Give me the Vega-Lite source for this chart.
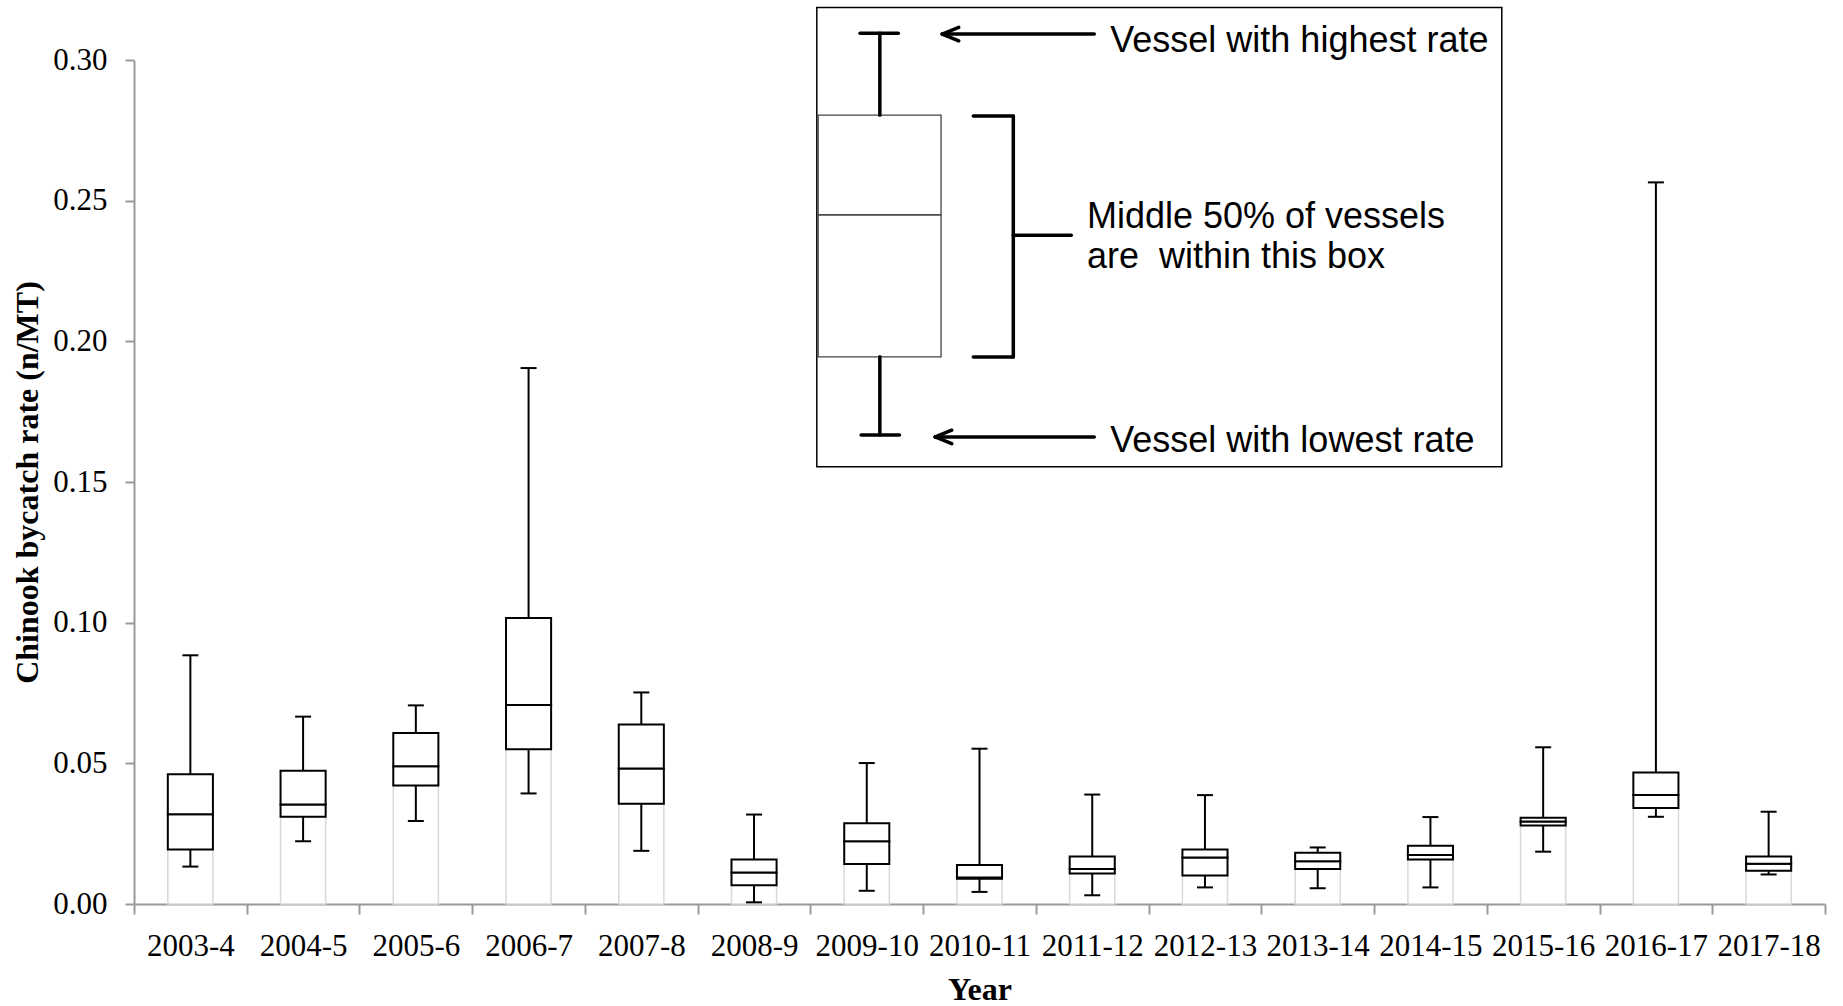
{
  "$schema": "https://vega.github.io/schema/vega-lite/v6.json",
  "width": 1691,
  "height": 844,
  "autosize": {"type": "none"},
  "padding": {"left": 134, "top": 60, "right": 18, "bottom": 102},
  "background": "white",
  "config": {
    "view": {"stroke": null},
    "axisY": {
      "grid": false, "domainColor": "#9a9a9a", "domainWidth": 2, "tickColor": "#9a9a9a", "tickWidth": 2, "tickSize": 9,
      "labelFont": "Liberation Serif", "labelFontSize": 31, "labelColor": "black", "labelPadding": 18,
      "titleFont": "Liberation Serif", "titleFontSize": 32, "titleFontWeight": "bold", "titleColor": "black", "titlePadding": 8
    }
  },
  "datasets": {
    "boxes": [
      {"year": "2003-4", "min": 0.0133, "q1": 0.0194, "med": 0.0319, "q3": 0.0461, "max": 0.0884},
      {"year": "2004-5", "min": 0.0223, "q1": 0.0310, "med": 0.0354, "q3": 0.0474, "max": 0.0666},
      {"year": "2005-6", "min": 0.0295, "q1": 0.0421, "med": 0.0490, "q3": 0.0608, "max": 0.0706},
      {"year": "2006-7", "min": 0.0393, "q1": 0.0550, "med": 0.0707, "q3": 0.1017, "max": 0.1905},
      {"year": "2007-8", "min": 0.0189, "q1": 0.0356, "med": 0.0482, "q3": 0.0638, "max": 0.0752},
      {"year": "2008-9", "min": 0.0006, "q1": 0.0067, "med": 0.0112, "q3": 0.0158, "max": 0.0318},
      {"year": "2009-10", "min": 0.0047, "q1": 0.0142, "med": 0.0223, "q3": 0.0287, "max": 0.0501},
      {"year": "2010-11", "min": 0.0043, "q1": 0.0090, "med": 0.0094, "q3": 0.0139, "max": 0.0552},
      {"year": "2011-12", "min": 0.0031, "q1": 0.0108, "med": 0.0124, "q3": 0.0169, "max": 0.0389},
      {"year": "2012-13", "min": 0.0059, "q1": 0.0101, "med": 0.0165, "q3": 0.0194, "max": 0.0387},
      {"year": "2013-14", "min": 0.0056, "q1": 0.0124, "med": 0.0152, "q3": 0.0182, "max": 0.0201},
      {"year": "2014-15", "min": 0.0059, "q1": 0.0158, "med": 0.0174, "q3": 0.0207, "max": 0.0309},
      {"year": "2015-16", "min": 0.0186, "q1": 0.0279, "med": 0.0293, "q3": 0.0307, "max": 0.0557},
      {"year": "2016-17", "min": 0.0310, "q1": 0.0341, "med": 0.0387, "q3": 0.0467, "max": 0.2565},
      {"year": "2017-18", "min": 0.0105, "q1": 0.0118, "med": 0.0143, "q3": 0.0169, "max": 0.0328}
    ],
    "inset_frame": [
      {"x": 6.057, "x2": 12.133, "y": 0.3187, "y2": 0.1554}
    ],
    "inset_box": [
      {"x": 6.069, "x2": 7.159, "y": 0.2804, "y2": 0.2449},
      {"x": 6.069, "x2": 7.159, "y": 0.2449, "y2": 0.1945}
    ],
    "inset_lines": [
      {"part": "upper whisker", "x": 6.616, "x2": 6.616, "y": 0.2804, "y2": 0.3095},
      {"part": "upper cap", "x": 6.44, "x2": 6.78, "y": 0.3095, "y2": 0.3095},
      {"part": "lower whisker", "x": 6.616, "x2": 6.616, "y": 0.1945, "y2": 0.1667},
      {"part": "lower cap", "x": 6.45, "x2": 6.79, "y": 0.1667, "y2": 0.1667},
      {"part": "top arrow", "x": 7.169, "x2": 8.518, "y": 0.3092, "y2": 0.3092},
      {"part": "top arrow head a", "x": 7.169, "x2": 7.316, "y": 0.3092, "y2": 0.3116},
      {"part": "top arrow head b", "x": 7.169, "x2": 7.316, "y": 0.3092, "y2": 0.3068},
      {"part": "bottom arrow", "x": 7.107, "x2": 8.518, "y": 0.1660, "y2": 0.1660},
      {"part": "bottom arrow head a", "x": 7.107, "x2": 7.254, "y": 0.1660, "y2": 0.1684},
      {"part": "bottom arrow head b", "x": 7.107, "x2": 7.254, "y": 0.1660, "y2": 0.1636},
      {"part": "bracket spine", "x": 7.800, "x2": 7.800, "y": 0.2801, "y2": 0.1944},
      {"part": "bracket top", "x": 7.445, "x2": 7.800, "y": 0.2801, "y2": 0.2801},
      {"part": "bracket bottom", "x": 7.445, "x2": 7.800, "y": 0.1944, "y2": 0.1944},
      {"part": "bracket tip", "x": 7.800, "x2": 8.314, "y": 0.2377, "y2": 0.2377}
    ],
    "inset_text": [
      {"x": 8.660, "y": 0.3030, "label": "Vessel with highest rate"},
      {"x": 8.453, "y": 0.2402, "label": "Middle 50% of vessels"},
      {"x": 8.453, "y": 0.2260, "label": "are \u00a0within this box"},
      {"x": 8.660, "y": 0.1608, "label": "Vessel with lowest rate"}
    ]
  },
  "layer": [
    {
      "data": {"name": "boxes"},
      "encoding": {
        "x": {
          "field": "year", "type": "nominal", "sort": null,
          "scale": {"paddingInner": 0, "paddingOuter": 0},
          "axis": {
            "title": "Year", "labelAngle": 0, "tickBand": "extent",
            "domainColor": "#9a9a9a", "domainWidth": 2, "tickColor": "#9a9a9a", "tickWidth": 2, "tickSize": 10,
            "labelFont": "Liberation Serif", "labelFontSize": 31, "labelColor": "black", "labelPadding": 17,
            "labelOverlap": false,
            "titleFont": "Liberation Serif", "titleFontSize": 32, "titleFontWeight": "bold", "titleColor": "black", "titlePadding": 13
          }
        }
      },
      "layer": [
        {
          "mark": {"type": "bar", "width": {"band": 0.4}, "fill": "white", "stroke": "#d9d9d9", "strokeWidth": 1.5},
          "encoding": {
            "y": {
              "field": "q1", "type": "quantitative",
              "scale": {"domain": [0, 0.3], "nice": false, "zero": true},
              "axis": {"title": "Chinook bycatch rate (n/MT)", "values": [0, 0.05, 0.1, 0.15, 0.2, 0.25, 0.3], "format": ".2f"}
            }
          }
        },
        {
          "mark": {"type": "rule", "stroke": "black", "strokeWidth": 2},
          "encoding": {
            "y": {"field": "q3", "type": "quantitative", "scale": {"domain": [0, 0.3], "nice": false, "zero": true},
              "axis": {"title": "Chinook bycatch rate (n/MT)", "values": [0, 0.05, 0.1, 0.15, 0.2, 0.25, 0.3], "format": ".2f"}},
            "y2": {"field": "max"}
          }
        },
        {
          "mark": {"type": "rule", "stroke": "black", "strokeWidth": 2},
          "encoding": {
            "y": {"field": "min", "type": "quantitative", "scale": {"domain": [0, 0.3], "nice": false, "zero": true},
              "axis": {"title": "Chinook bycatch rate (n/MT)", "values": [0, 0.05, 0.1, 0.15, 0.2, 0.25, 0.3], "format": ".2f"}},
            "y2": {"field": "q1"}
          }
        },
        {
          "mark": {"type": "tick", "size": 16, "thickness": 2, "color": "black", "opacity": 1},
          "encoding": {"y": {"field": "max", "type": "quantitative", "scale": {"domain": [0, 0.3], "nice": false, "zero": true},
            "axis": {"title": "Chinook bycatch rate (n/MT)", "values": [0, 0.05, 0.1, 0.15, 0.2, 0.25, 0.3], "format": ".2f"}}}
        },
        {
          "mark": {"type": "tick", "size": 16, "thickness": 2, "color": "black", "opacity": 1},
          "encoding": {"y": {"field": "min", "type": "quantitative", "scale": {"domain": [0, 0.3], "nice": false, "zero": true},
            "axis": {"title": "Chinook bycatch rate (n/MT)", "values": [0, 0.05, 0.1, 0.15, 0.2, 0.25, 0.3], "format": ".2f"}}}
        },
        {
          "mark": {"type": "bar", "width": {"band": 0.4}, "fill": "white", "stroke": "black", "strokeWidth": 2},
          "encoding": {
            "y": {"field": "q1", "type": "quantitative", "scale": {"domain": [0, 0.3], "nice": false, "zero": true},
              "axis": {"title": "Chinook bycatch rate (n/MT)", "values": [0, 0.05, 0.1, 0.15, 0.2, 0.25, 0.3], "format": ".2f"}},
            "y2": {"field": "med"}
          }
        },
        {
          "mark": {"type": "bar", "width": {"band": 0.4}, "fill": "white", "stroke": "black", "strokeWidth": 2},
          "encoding": {
            "y": {"field": "med", "type": "quantitative", "scale": {"domain": [0, 0.3], "nice": false, "zero": true},
              "axis": {"title": "Chinook bycatch rate (n/MT)", "values": [0, 0.05, 0.1, 0.15, 0.2, 0.25, 0.3], "format": ".2f"}},
            "y2": {"field": "q3"}
          }
        }
      ]
    },
    {
      "layer": [
        {
          "data": {"name": "inset_frame"},
          "mark": {"type": "rect", "fill": "white", "stroke": "black", "strokeWidth": 1.5},
          "encoding": {
            "x": {"field": "x", "type": "quantitative", "scale": {"domain": [0, 15], "nice": false, "zero": false}, "axis": null},
            "x2": {"field": "x2"},
            "y": {"field": "y", "type": "quantitative", "axis": null},
            "y2": {"field": "y2"}
          }
        },
        {
          "data": {"name": "inset_box"},
          "mark": {"type": "rect", "fill": "white", "stroke": "#444444", "strokeWidth": 1.3},
          "encoding": {
            "x": {"field": "x", "type": "quantitative", "axis": null},
            "x2": {"field": "x2"},
            "y": {"field": "y", "type": "quantitative", "axis": null},
            "y2": {"field": "y2"}
          }
        },
        {
          "data": {"name": "inset_lines"},
          "mark": {"type": "rule", "stroke": "black", "strokeWidth": 3.5, "strokeCap": "round"},
          "encoding": {
            "x": {"field": "x", "type": "quantitative", "axis": null},
            "x2": {"field": "x2"},
            "y": {"field": "y", "type": "quantitative", "axis": null},
            "y2": {"field": "y2"}
          }
        },
        {
          "data": {"name": "inset_text"},
          "mark": {"type": "text", "align": "left", "baseline": "alphabetic", "font": "Liberation Sans", "fontSize": 36, "color": "black"},
          "encoding": {
            "x": {"field": "x", "type": "quantitative", "axis": null},
            "y": {"field": "y", "type": "quantitative", "axis": null},
            "text": {"field": "label"}
          }
        }
      ]
    }
  ],
  "resolve": {"scale": {"x": "independent"}, "axis": {"x": "independent", "y": "independent"}}
}
